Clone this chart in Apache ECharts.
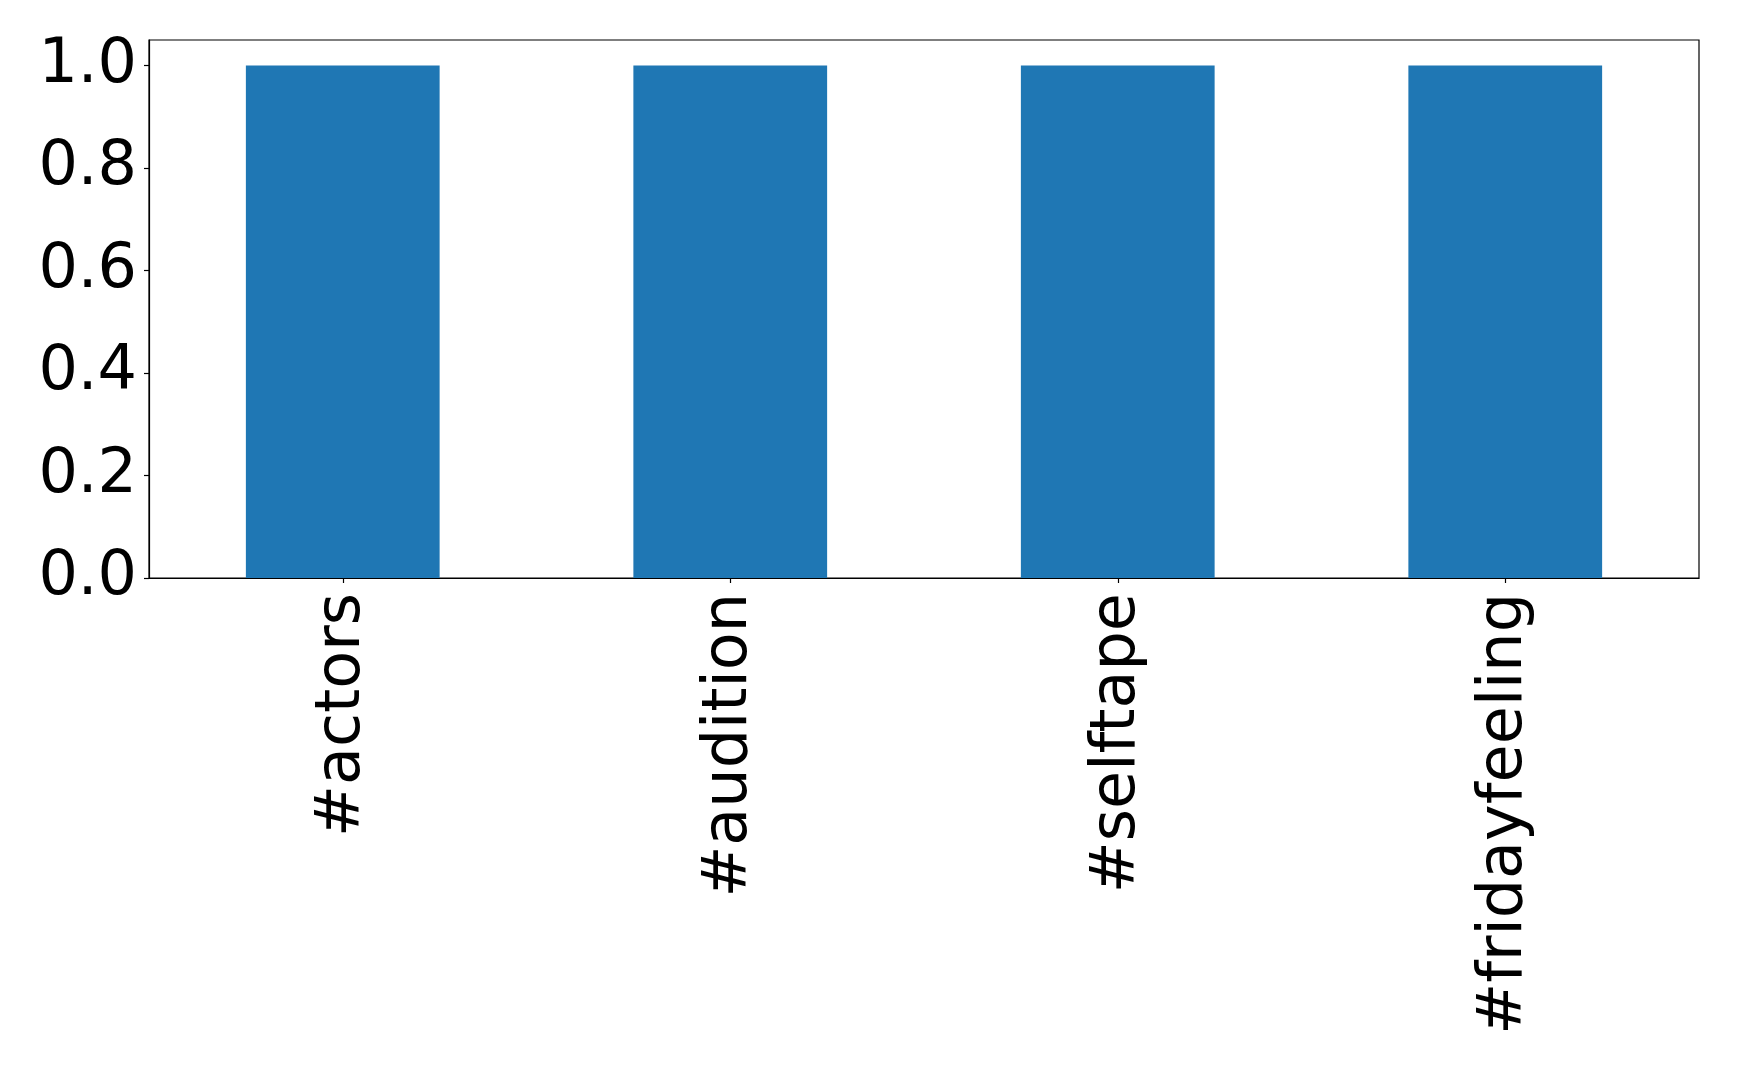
<!DOCTYPE html>
<html>
<head>
<meta charset="utf-8">
<script src="https://cdn.jsdelivr.net/npm/echarts@6/dist/echarts.min.js"></script>
<style>
html,body{margin:0;padding:0;background:#fff;}
#chart{width:1739px;height:1073px;}
</style>
</head>
<body>
<div id="chart"></div>
<script>
const categories = ['#actors', '#audition', '#selftape', '#fridayfeeling'];
const values = [1, 1, 1, 1];
const yTicks = [0, 0.2, 0.4, 0.6, 0.8, 1.0];

const chart = echarts.init(document.getElementById('chart'), null, {renderer: 'canvas'});
const font = 'DejaVu Sans';
chart.setOption({
  animation: false,
  backgroundColor: '#ffffff',
  grid: {
    left: 149, top: 40, width: 1550, height: 538,
    show: true, borderColor: '#000', borderWidth: 1.2, backgroundColor: 'transparent'
  },
  xAxis: {
    type: 'category',
    data: categories,
    axisLine: {show: true, lineStyle: {color: '#000', width: 1.2}},
    axisTick: {show: true, alignWithLabel: true, length: 5, lineStyle: {color: '#000', width: 1.2}},
    axisLabel: {rotate: 90, color: '#000', fontSize: 62, fontFamily: font, margin: 15, interval: 0},
    splitLine: {show: false}
  },
  yAxis: {
    type: 'value',
    min: 0, max: 1.05,
    axisLine: {show: true, lineStyle: {color: '#000', width: 1.2}},
    axisTick: {show: true, length: 5, customValues: yTicks, lineStyle: {color: '#000', width: 1.2}},
    axisLabel: {color: '#000', fontSize: 62, fontFamily: font, margin: 12, customValues: yTicks,
      formatter: v => Number(v).toFixed(1)},
    splitLine: {show: false}
  },
  series: [{
    type: 'bar',
    data: values,
    barWidth: '50%',
    itemStyle: {color: '#1f77b4'}
  }]
});
</script>
</body>
</html>
